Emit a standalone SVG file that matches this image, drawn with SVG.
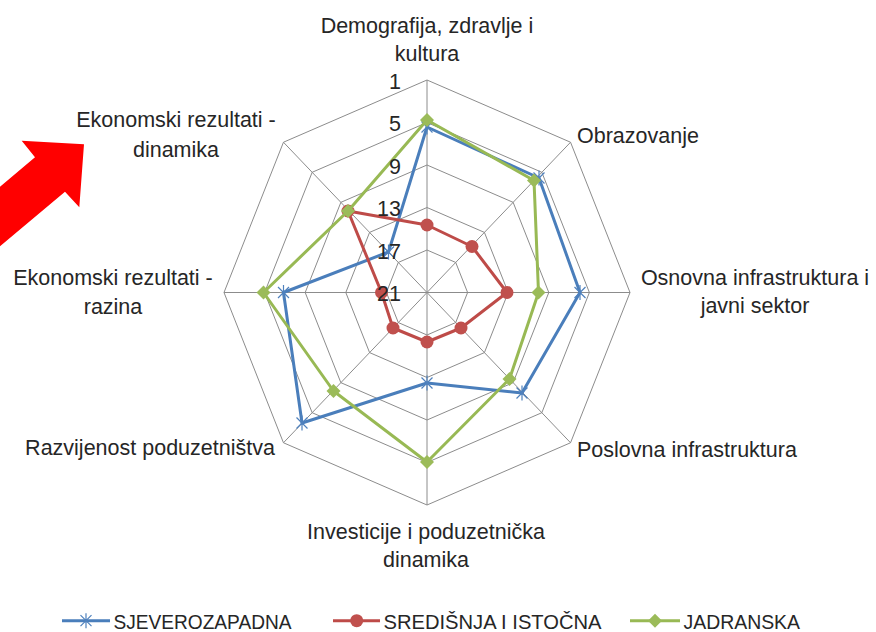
<svg xmlns="http://www.w3.org/2000/svg" width="876" height="632" viewBox="0 0 876 632">
<style>
.grid{fill:none;stroke:#8c8c8c;stroke-width:1}
.t{font-family:"Liberation Sans",Arial,sans-serif;font-size:21.5px;fill:#262626}
.lg{font-family:"Liberation Sans",Arial,sans-serif;font-size:21px;fill:#262626}
.mid{text-anchor:middle}
.end{text-anchor:end}
.sb{fill:none;stroke:#4a7ebb;stroke-width:3;stroke-linejoin:round}
.sr{fill:none;stroke:#be4b48;stroke-width:3;stroke-linejoin:round}
.sg{fill:none;stroke:#98b954;stroke-width:3;stroke-linejoin:round}
</style>
<defs>
<g id="mstar"><path d="M0,-7.5V7.5M-5.5,-5.5L5.5,5.5M5.5,-5.5L-5.5,5.5" stroke="#4f81bd" stroke-width="1.2" fill="none"/></g>
<circle id="mcirc" r="6.5" fill="#c0504d"/>
<path id="mdia" d="M0,-7L7,0L0,7L-7,0Z" fill="#9bbb59"/>
</defs>
<rect width="876" height="632" fill="#ffffff"/>
<g id="arrow">
<polygon points="0,186.7 35,157.3 21.7,140.7 84,144.3 79.3,207.3 65,191.7 0,246.3" fill="#ff0000"/>
</g>
<g id="grid">
<polygon class="grid" points="427,80 570.54,142.24 630,292.5 570.54,442.76 427,505 283.46,442.76 224,292.5 283.46,142.24"/>
<polygon class="grid" points="427,122.5 541.83,172.29 589.4,292.5 541.83,412.71 427,462.5 312.17,412.71 264.6,292.5 312.17,172.29"/>
<polygon class="grid" points="427,165 513.13,202.34 548.8,292.5 513.13,382.66 427,420 340.87,382.66 305.2,292.5 340.87,202.34"/>
<polygon class="grid" points="427,207.5 484.42,232.4 508.2,292.5 484.42,352.6 427,377.5 369.58,352.6 345.8,292.5 369.58,232.4"/>
<polygon class="grid" points="427,250 455.71,262.45 467.6,292.5 455.71,322.55 427,335 398.29,322.55 386.4,292.5 398.29,262.45"/>
<path class="grid" d="M427,292.5L427,80M427,292.5L570.54,142.24M427,292.5L630,292.5M427,292.5L570.54,442.76M427,292.5L427,505M427,292.5L283.46,442.76M427,292.5L224,292.5M427,292.5L283.46,142.24"/>
</g>
<g id="series-sjeverozapadna">
<polygon class="sb" points="427,127 539,178 580,292.5 522,393 427,383 302,423 283.5,292.5 388.5,252"/>
<use href="#mstar" x="427" y="127"/><use href="#mstar" x="539" y="178"/><use href="#mstar" x="580" y="292.5"/><use href="#mstar" x="522" y="393"/>
<use href="#mstar" x="427" y="383"/><use href="#mstar" x="302" y="423"/><use href="#mstar" x="283.5" y="292.5"/><use href="#mstar" x="388.5" y="252"/>
</g>
<g id="series-sredisnja">
<polygon class="sr" points="427,225 472,246.5 507,292.5 461,328 427,342 393,328 381.5,292.5 348,211"/>
<use href="#mcirc" x="427" y="225"/><use href="#mcirc" x="472" y="246.5"/><use href="#mcirc" x="507" y="292.5"/><use href="#mcirc" x="461" y="328"/>
<use href="#mcirc" x="427" y="342"/><use href="#mcirc" x="393" y="328"/><use href="#mcirc" x="381.5" y="292.5"/><use href="#mcirc" x="348" y="211"/>
</g>
<g id="series-jadranska">
<polygon class="sg" points="427,120 534,180.5 538.5,292.5 509.5,379 427,462 333.5,391 263.5,292.5 348,211"/>
<use href="#mdia" x="427" y="120"/><use href="#mdia" x="534" y="180.5"/><use href="#mdia" x="538.5" y="292.5"/><use href="#mdia" x="509.5" y="379"/>
<use href="#mdia" x="427" y="462"/><use href="#mdia" x="333.5" y="391"/><use href="#mdia" x="263.5" y="292.5"/><use href="#mdia" x="348" y="211"/>
</g>
<g id="axis-values">
<text class="t end" x="401" y="88.5">1</text>
<text class="t end" x="401" y="131">5</text>
<text class="t end" x="401" y="173.5">9</text>
<text class="t end" x="401" y="216">13</text>
<text class="t end" x="401" y="258.5">17</text>
<text class="t end" x="401" y="301">21</text>
</g>
<g id="cat-demografija"><text class="t mid" x="427" y="33">Demografija, zdravlje i</text><text class="t mid" x="427" y="61">kultura</text></g>
<g id="cat-obrazovanje"><text class="t" x="577" y="143">Obrazovanje</text></g>
<g id="cat-osnovna"><text class="t mid" x="755" y="285">Osnovna infrastruktura i</text><text class="t mid" x="755" y="313">javni sektor</text></g>
<g id="cat-poslovna"><text class="t" x="577" y="456.5">Poslovna infrastruktura</text></g>
<g id="cat-investicije"><text class="t mid" x="426" y="539">Investicije i poduzetnička</text><text class="t mid" x="426" y="567">dinamika</text></g>
<g id="cat-razvijenost"><text class="t mid" x="150" y="455">Razvijenost poduzetništva</text></g>
<g id="cat-razina"><text class="t mid" x="113" y="285">Ekonomski rezultati -</text><text class="t mid" x="113" y="314">razina</text></g>
<g id="cat-dinamika"><text class="t mid" x="176" y="127">Ekonomski rezultati -</text><text class="t mid" x="176" y="156.5">dinamika</text></g>
<g id="legend">
<line x1="62" y1="620.7" x2="110" y2="620.7" stroke="#4a7ebb" stroke-width="3"/>
<use href="#mstar" x="86" y="620.7"/>
<text class="lg" x="113.5" y="628.5" textLength="178" lengthAdjust="spacingAndGlyphs">SJEVEROZAPADNA</text>
<line x1="333" y1="620.7" x2="380" y2="620.7" stroke="#be4b48" stroke-width="3"/>
<use href="#mcirc" x="356.7" y="620.7"/>
<text class="lg" x="383.5" y="628.5" textLength="218" lengthAdjust="spacingAndGlyphs">SREDIŠNJA I ISTOČNA</text>
<line x1="630" y1="620.7" x2="680" y2="620.7" stroke="#98b954" stroke-width="3"/>
<use href="#mdia" x="655" y="620.7"/>
<text class="lg" x="683.5" y="628.5" textLength="116.5" lengthAdjust="spacingAndGlyphs">JADRANSKA</text>
</g>
</svg>
